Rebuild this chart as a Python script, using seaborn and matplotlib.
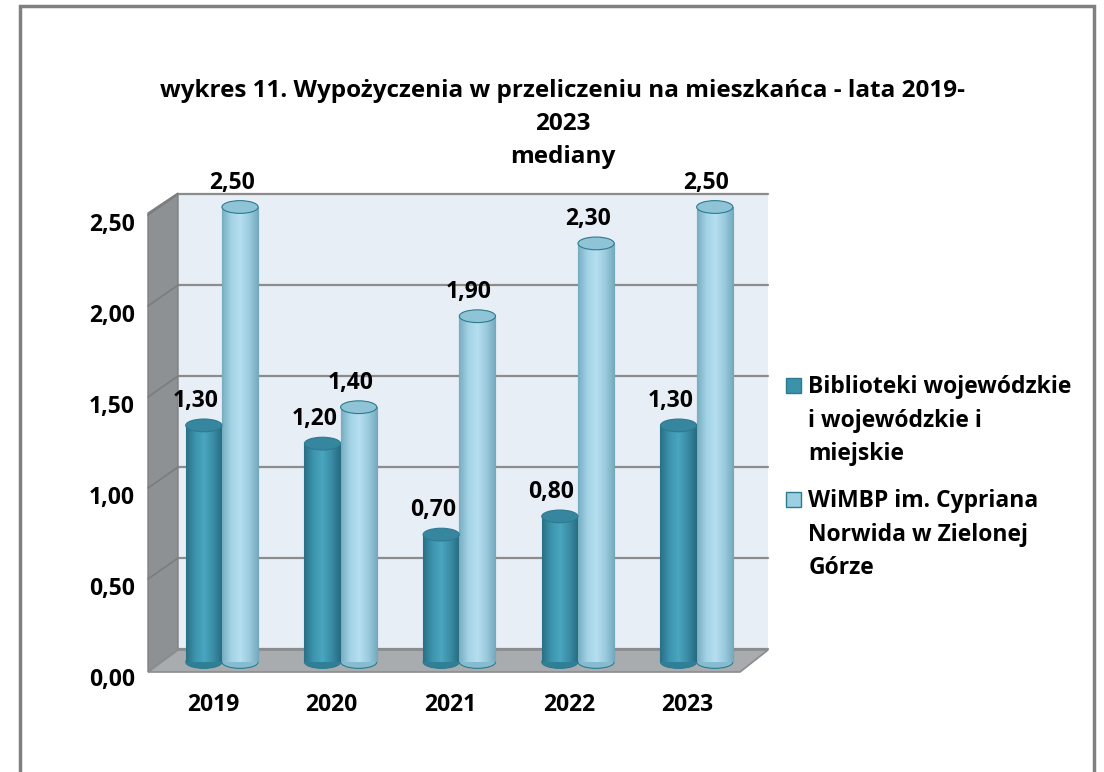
import numpy as np
import pandas as pd
import seaborn as sns
import matplotlib.pyplot as plt
from matplotlib.patches import Polygon, Ellipse, Rectangle
from matplotlib.lines import Line2D
from matplotlib.colors import LinearSegmentedColormap
from matplotlib import transforms

# data
years = ['2019', '2020', '2021', '2022', '2023']
wojewodzkie = [1.30, 1.20, 0.70, 0.80, 1.30]
wimbp = [2.50, 1.40, 1.90, 2.30, 2.50]
series_names = ['Biblioteki wojewódzkie i wojewódzkie i miejskie',
                'WiMBP im. Cypriana Norwida w Zielonej Górze']
legend_lines = [['Biblioteki wojewódzkie', 'i wojewódzkie i', 'miejskie'],
                ['WiMBP im. Cypriana', 'Norwida w Zielonej', 'Górze']]
y_ticks = [0.0, 0.5, 1.0, 1.5, 2.0, 2.5]
title = 'wykres 11. Wypożyczenia w przeliczeniu na mieszkańca - lata 2019-\n2023\nmediany'

df = pd.DataFrame({
    'rok': years * 2,
    'seria': [series_names[0]] * 5 + [series_names[1]] * 5,
    'wartosc': wojewodzkie + wimbp,
})

W, H = 1104, 772
FS = 16.5
sns.set_theme(style='white')
plt.rcParams['font.family'] = ['Open Sans', 'Liberation Sans', 'DejaVu Sans']
plt.rcParams['font.weight'] = 'bold'
plt.rcParams['text.color'] = 'black'
plt.rcParams['xtick.color'] = 'black'
plt.rcParams['ytick.color'] = 'black'

fig = plt.figure(figsize=(W / 100, H / 100), dpi=100)


def fx(px):
    return px / W


def fy(py):
    return 1 - py / H


# axes = the plane of the cylinders
ax = fig.add_axes([fx(162.6), fy(662), fx(756) - fx(162.6), (662 - 207) / H])
ax.set_facecolor('none')

base_colors = ['#3b92ab', '#9ccfe1']
sns.barplot(data=df, x='rok', y='wartosc', hue='seria', order=years,
            hue_order=series_names, palette=base_colors, width=0.61, gap=0,
            saturation=1, ax=ax, legend=False)
ax.set_xlim(-0.5, 4.5)
ax.set_ylim(0, 2.5)

# outer frame
fig.add_artist(Rectangle((fx(20), -0.1), fx(1094) - fx(20), fy(6) + 0.1,
                         transform=fig.transFigure, fill=False,
                         edgecolor='#808080', linewidth=2.5, zorder=-3))

# back wall, side wall, floor
deco = dict(transform=fig.transFigure, zorder=-2)
fig.add_artist(Polygon([(fx(178), fy(650)), (fx(768), fy(650)),
                        (fx(768), fy(193)), (fx(178), fy(193))],
                       facecolor='#e7eef6', edgecolor='none', **deco))
fig.add_artist(Polygon([(fx(148), fy(672)), (fx(178), fy(650)),
                        (fx(178), fy(193)), (fx(148), fy(213))],
                       facecolor='#8e9194', edgecolor='#7d8083', lw=1, **deco))
fig.add_artist(Polygon([(fx(148), fy(672)), (fx(178), fy(650)),
                        (fx(768), fy(650)), (fx(740), fy(672))],
                       facecolor='#a9acae', edgecolor='#8a8d90', lw=1.2, **deco))

# gridlines on the back wall and the side wall (from the y ticks)
off = transforms.Affine2D().translate(0, 13)
wall_tr = transforms.blended_transform_factory(fig.transFigure, ax.transData + off)
for v in y_ticks:
    fig.add_artist(Line2D([fx(178), fx(768)], [v, v], transform=wall_tr,
                          color='#8c8c8c', lw=1.6, zorder=-1))
side_tr = transforms.blended_transform_factory(fig.transFigure,
                                               ax.transData + transforms.Affine2D().translate(0, -8))
for v in y_ticks[1:]:
    fig.add_artist(Line2D([fx(148), fx(178)], [v, v + 0.115], transform=side_tr,
                          color='#7a7d80', lw=1.2, zorder=-1))

# cylinder shading
cmaps = [
    LinearSegmentedColormap.from_list('d', ['#2a7086', '#3c95ae', '#4aa5be', '#3a8ca5', '#276a80']),
    LinearSegmentedColormap.from_list('l', ['#78aec2', '#a3d3e5', '#b6dff0', '#9acadd', '#74a9bd']),
]
cap_colors = ['#3786a0', '#8fc4d7']
bottom_colors = ['#2f7f97', '#86bccf']
edge = '#2c7a90'
grad = np.linspace(0, 1, 64).reshape(1, -1)
bars = ax.patches[:10]
ell_h = 0.07
for i, bar in enumerate(bars):
    s = i // 5
    x0, w, h = bar.get_x(), bar.get_width(), bar.get_height()
    bar.set_edgecolor(edge)
    bar.set_linewidth(0.8)
    bar.set_zorder(3)
    ax.add_patch(Ellipse((x0 + w / 2, 0), w, ell_h, facecolor=bottom_colors[s],
                         edgecolor=edge, lw=0.8, zorder=2.5, clip_on=False))
    im = ax.imshow(grad, cmap=cmaps[s], extent=[x0, x0 + w, 0, h],
                   aspect='auto', zorder=3.5)
    im.set_clip_path(bar)
    ax.add_patch(Ellipse((x0 + w / 2, h), w, ell_h, facecolor=cap_colors[s],
                         edgecolor=edge, lw=0.8, zorder=4, clip_on=False))
    ax.annotate(f'{h:.2f}'.replace('.', ','), (x0 + w / 2, h),
                xytext=(-6, 9), textcoords='offset points', ha='center',
                va='bottom', fontsize=FS, fontweight='bold', color='black',
                annotation_clip=False)

ax.set_xlim(-0.5, 4.5)
ax.set_ylim(0, 2.5)

# axes text
ax.set_xlabel('')
ax.set_ylabel('')
ax.set_yticks(y_ticks)
ax.set_yticklabels([f'{v:.2f}'.replace('.', ',') for v in y_ticks])
ax.tick_params(axis='both', length=0, labelsize=FS)
ax.tick_params(axis='y', pad=20)
ax.tick_params(axis='x', pad=22)
for lab in ax.get_yticklabels():
    lab.set_transform(lab.get_transform() + transforms.Affine2D().translate(0, -15))
    lab.set_fontweight('bold')
for lab in ax.get_xticklabels():
    lab.set_transform(lab.get_transform() + transforms.Affine2D().translate(-9, 0))
    lab.set_fontweight('bold')
sns.despine(ax=ax, left=True, bottom=True)
ax.grid(False)

fig.text(fx(563), fy(79), title, ha='center', va='top', fontsize=17.5,
         fontweight='bold', linespacing=1.5)

# legend
legend_colors = ['#3b92ab', '#9ccfe1']
tops = [364, 478]
for s in range(2):
    handles = [Rectangle((0, 0), 1, 1, facecolor=legend_colors[s], edgecolor='#2c7a90', lw=1)]
    handles += [Rectangle((0, 0), 1, 1, facecolor='none', edgecolor='none')] * 2
    leg = fig.legend(handles, legend_lines[s], loc='upper left',
                     bbox_to_anchor=(fx(775), fy(tops[s])), frameon=False,
                     handlelength=0.65, handleheight=0.65,
                     handletextpad=0.3, labelspacing=0.4, borderpad=0,
                     prop={'weight': 'bold', 'size': FS})

fig.savefig('out.png', dpi=100)
